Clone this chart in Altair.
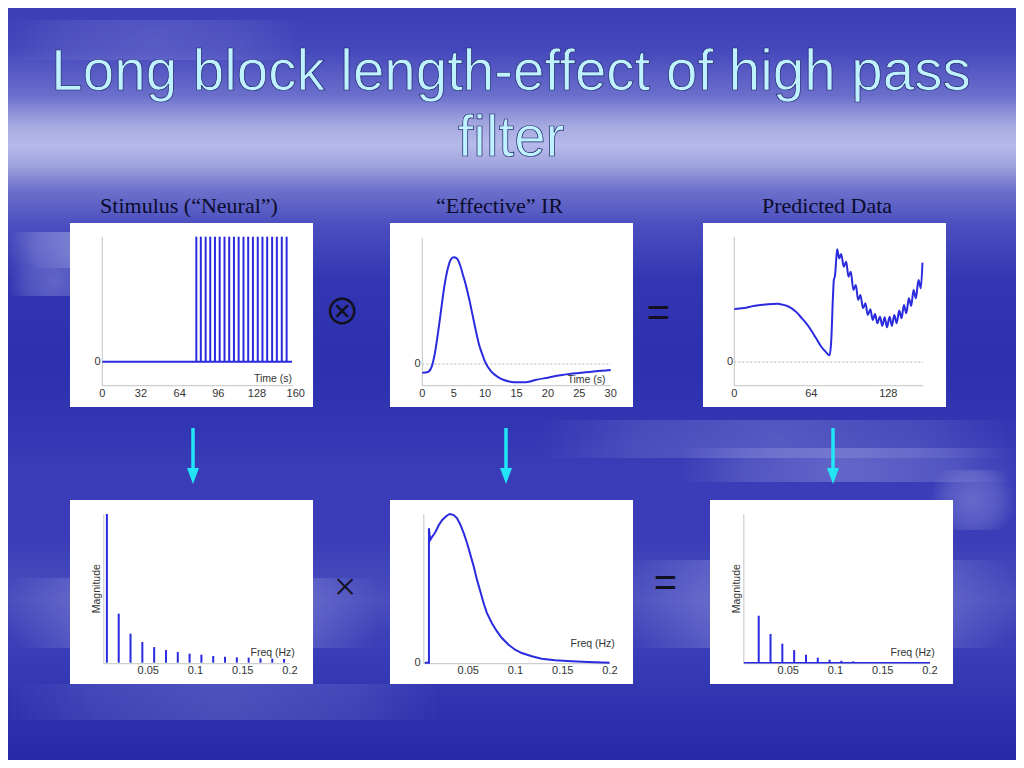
import altair as alt
import pandas as pd

OFF = 8           # page margin
W, H = 1008, 752  # chart size

# ---------------- text ----------------
title_lines = ["Long block length-effect of high pass", "filter"]
subtitles = ["Stimulus (\u201cNeural\u201d)", "\u201cEffective\u201d IR", "Predicted Data"]

# ---------------- data ----------------
# Stimulus ("Neural"): spike onset times (s)
stim_onsets = [77.8, 81.5, 85.5, 89.3, 93.2, 97.1, 101.1, 105.0, 108.9, 112.8,
               116.8, 120.7, 124.6, 128.6, 132.5, 136.4, 140.5, 144.4, 148.5, 152.5]
stim_end = 157

# "Effective" IR
hrf_t = [0, 0.5, 1, 1.5, 2, 2.5, 3, 3.5, 4, 4.5, 5, 5.5, 6, 6.5, 7, 7.5, 8, 8.5, 9, 9.5, 10,
         11, 12, 13, 14, 15, 16, 17, 18, 20, 22, 24, 26, 28, 30]
hrf_v = [-0.081, -0.08, -0.072, -0.025, 0.10, 0.29, 0.51, 0.725, 0.88, 0.975, 1.0,
         0.99, 0.93, 0.83, 0.725, 0.60, 0.46, 0.32, 0.19, 0.10, 0.02,
         -0.072, -0.12, -0.15, -0.166, -0.172, -0.172, -0.166, -0.15,
         -0.128, -0.106, -0.09, -0.078, -0.066, -0.056]

# Predicted data
pred_t = [0, 8, 16, 24, 32, 36, 40, 44, 48, 52, 56, 60, 64, 68, 72, 76, 79.2,
          80.6, 81.9, 82.8, 83.6, 84.7, 85.5, 87.2, 88.8, 91.0, 93.0, 94.9, 96.8,
          99.0, 101.0, 102.9, 104.8, 107.0, 109.0, 110.9, 113.1, 115.0, 117.0,
          118.9, 121.1, 123.0, 125.0, 126.9, 129.1, 131.0, 133.0, 134.9, 137.1,
          139.0, 141.0, 142.9, 145.1, 147.0, 149.0, 150.9, 153.1, 155.0, 156.4]
pred_v = [0.47, 0.479, 0.497, 0.509, 0.515, 0.516, 0.509, 0.497, 0.473, 0.438, 0.39,
          0.34, 0.28, 0.21, 0.14, 0.09, 0.059,
          0.195, 0.55, 0.734, 0.757, 0.905, 1.0, 0.92, 0.959, 0.846, 0.89, 0.757, 0.80,
          0.639, 0.683, 0.55, 0.595, 0.476, 0.521, 0.417, 0.467, 0.373, 0.426,
          0.343, 0.402, 0.32, 0.396, 0.308, 0.402, 0.32, 0.417, 0.343, 0.456,
          0.388, 0.506, 0.432, 0.565, 0.497, 0.639, 0.565, 0.728, 0.654, 0.882]

# Spectrum of stimulus
stim_freq = [0.00625, 0.01875, 0.03125, 0.04375, 0.05625, 0.06875, 0.08125, 0.09375,
             0.10625, 0.11875, 0.13125, 0.14375, 0.15625, 0.16875, 0.18125, 0.19375]
stim_mag = [1.0, 0.33, 0.195, 0.139, 0.105, 0.085, 0.072, 0.061,
            0.054, 0.045, 0.040, 0.036, 0.034, 0.029, 0.027, 0.025]

# Spectrum of effective IR
ir_freq = [0.004, 0.0084, 0.0084, 0.0091, 0.0098, 0.0112, 0.0137, 0.0154, 0.0189,
           0.0225, 0.026, 0.0295, 0.0305, 0.0347, 0.0382, 0.0418, 0.0453, 0.0488,
           0.0523, 0.0558, 0.0593, 0.0628, 0.0663, 0.0698, 0.0751, 0.0804, 0.0856,
           0.0926, 0.0996, 0.1067, 0.1172, 0.1277, 0.1418, 0.1593, 0.1768, 0.1996]
ir_mag = [0, 0, 0.904, 0.859, 0.826, 0.841, 0.864, 0.881, 0.926,
          0.96, 0.982, 0.998, 1.0, 0.993, 0.971, 0.926, 0.870, 0.803,
          0.725, 0.647, 0.557, 0.479, 0.40, 0.333, 0.266, 0.21, 0.166,
          0.121, 0.087, 0.065, 0.043, 0.027, 0.016, 0.009, 0.004, 0.0]

# Spectrum of predicted data
pred_freq = [0.01875, 0.03125, 0.04375, 0.05625, 0.06875, 0.08125, 0.09375,
             0.10625, 0.11875, 0.13125, 0.14375, 0.15625]
pred_mag = [0.316, 0.193, 0.128, 0.085, 0.054, 0.034, 0.020, 0.013, 0.009, 0.0045, 0.002, 0.001]

# tick labels
p1_ticks = [0, 32, 64, 96, 128, 160]
p2_ticks = [0, 5, 10, 15, 20, 25, 30]
p3_ticks = [0, 64, 128]
f_ticks = [0.05, 0.1, 0.15, 0.2]
f_labels = ["0.05", "0.1", "0.15", "0.2"]

# ---------------- style ----------------
BLUE = "#2a2ade"
AXIS = "#c4c4c4"
TICK = "#333333"
FONT = "Liberation Sans"
CYAN = "#22e6f6"
one = pd.DataFrame({"k": [0]})


def v(p):
    """page pixel -> chart pixel value"""
    return alt.value(p - OFF)


def sc(dom, a, b):
    return alt.Scale(domain=dom, range=[a - OFF, b - OFF], nice=False, zero=False)


def X(f, s):
    return alt.X(f, scale=s, axis=None)


def Y(f, s):
    return alt.Y(f, scale=s, axis=None)


def axis_lines(scx, xa, xb, ytop, ybot):
    d = pd.DataFrame({"a": [xa], "b": [xb]})
    yax = alt.Chart(d).mark_rule(color=AXIS, strokeWidth=1).encode(
        x=X("a:Q", scx), y=v(ytop), y2=v(ybot))
    xax = alt.Chart(d).mark_rule(color=AXIS, strokeWidth=1).encode(
        x=X("a:Q", scx), x2="b:Q", y=v(ybot))
    return [yax, xax]


def tick_text(scx, vals, labels, ypage):
    d = pd.DataFrame({"v": vals, "lab": labels})
    return alt.Chart(d).mark_text(font=FONT, fontSize=11, color=TICK, align="center",
                                  baseline="middle").encode(
        x=X("v:Q", scx), y=v(ypage), text="lab:N")


def zero_label(scy, xright):
    d = pd.DataFrame({"v": [0], "lab": ["0"]})
    return alt.Chart(d).mark_text(font=FONT, fontSize=11, color=TICK, align="right",
                                  baseline="middle").encode(
        x=v(xright), y=Y("v:Q", scy), text="lab:N")


def zero_line(scx, scy, xa, xb):
    d = pd.DataFrame({"a": [xa], "b": [xb], "z": [0]})
    return alt.Chart(d).mark_rule(color="#b4b4b4", strokeWidth=1, strokeDash=[2, 2]).encode(
        x=X("a:Q", scx), x2="b:Q", y=Y("z:Q", scy))


def label(txt, xp, yp, size=10.5, angle=0):
    return alt.Chart(one).mark_text(text=txt, font=FONT, fontSize=size, color=TICK,
                                    align="center", baseline="middle", angle=angle).encode(
        x=v(xp), y=v(yp))


# ---------------- background ----------------
bg_y = [8, 50, 95, 125, 145, 165, 190, 225, 280, 360, 430, 470, 540, 600, 640, 700, 760]
bg_c = ["#3b3db6", "#4548bc", "#6a6ecb", "#a5a9e0", "#b6baea", "#a0a4dd", "#6d71cb",
        "#4a4ebf", "#3236b2", "#2c30ae", "#3236b3", "#3a3db7", "#3a3db7", "#4a4ebe",
        "#3b3fb8", "#3034b0", "#2629a6"]
bg = alt.Chart(one).mark_rect(fill=alt.LinearGradient(
    gradient="linear", x1=0, x2=0, y1=0, y2=1,
    stops=[alt.GradientStop(offset=min(1, (y - OFF) / H), color=c) for y, c in zip(bg_y, bg_c)]
)).encode(x=v(OFF), x2=v(OFF + W), y=v(OFF), y2=v(OFF + H))

# soft light cloud streaks (page px), all kept inside the chart area
streaks = [
    (8, 150, 232, 268, 0.45),
    (8, 100, 268, 296, 0.3),
    (540, 1016, 420, 458, 0.22),
    (680, 1016, 448, 482, 0.28),
    (8, 380, 578, 648, 0.35),
    (620, 1016, 560, 648, 0.32),
    (8, 440, 684, 720, 0.18),
    (930, 1016, 470, 530, 0.3),
    (8, 300, 20, 60, 0.15),
]
streak_layers = []
for x0, x1, y0, y1, a in streaks:
    streak_layers.append(
        alt.Chart(one).mark_rect(
            fill=alt.RadialGradient(
                gradient="radial", x1=0.5, y1=0.5, r1=0, x2=0.5, y2=0.5, r2=0.5,
                stops=[alt.GradientStop(offset=0, color=f"rgba(205,210,245,{a})"),
                       alt.GradientStop(offset=0.6, color=f"rgba(205,210,245,{a * 0.6})"),
                       alt.GradientStop(offset=1, color="rgba(205,210,245,0)")])
        ).encode(x=v(x0), x2=v(x1), y=v(y0), y2=v(y1)))

boxes = [(70, 223, 313, 407), (390, 223, 633, 407), (703, 223, 946, 407),
         (70, 500, 313, 684), (390, 500, 633, 684), (710, 500, 953, 684)]
box_layers = [alt.Chart(one).mark_rect(fill="white").encode(
    x=v(a), x2=v(c), y=v(b), y2=v(d)) for a, b, c, d in boxes]

# ---------------- titles ----------------
title_layers = [alt.Chart(one).mark_text(
    text=txt, font=FONT, fontSize=56.5, color="#bff2ff", stroke="#22226a",
    strokeWidth=0.7, align="center", baseline="alphabetic").encode(x=v(511), y=v(yb))
    for txt, yb in zip(title_lines, [90, 156])]

sub_layers = [alt.Chart(one).mark_text(
    text=t, font="Liberation Serif", fontSize=22, color="#0c0c2c",
    align="center", baseline="alphabetic").encode(x=v(xc), y=v(213))
    for t, xc in zip(subtitles, [189, 499.5, 827])]

# ---------------- panel 1 : stimulus ----------------
s1x = sc([0, 160], 102.3, 295.7)
s1y = sc([0, 1], 361.7, 236.7)
d_spk = pd.DataFrame({"t": stim_onsets, "lo": 0, "hi": 1})
p1 = alt.layer(
    *axis_lines(s1x, 0, 158, 236.7, 385.7),
    alt.Chart(pd.DataFrame({"a": [0], "b": [stim_end], "z": [0]})).mark_rule(
        color=BLUE, strokeWidth=2).encode(x=X("a:Q", s1x), x2="b:Q", y=Y("z:Q", s1y)),
    alt.Chart(d_spk).mark_rule(color=BLUE, strokeWidth=2).encode(
        x=X("t:Q", s1x), y=Y("lo:Q", s1y), y2="hi:Q"),
    tick_text(s1x, p1_ticks, [str(t) for t in p1_ticks], 394),
    zero_label(s1y, 100.5),
    label("Time (s)", 273, 379),
)

# ---------------- panel 2 : effective IR ----------------
s2x = sc([0, 30], 422.3, 610.7)
s2y = sc([0, 1], 364, 257.3)
d_hrf = pd.DataFrame({"t": hrf_t, "v": hrf_v})
p2 = alt.layer(
    *axis_lines(s2x, 0, 30, 238, 385.7),
    zero_line(s2x, s2y, 0, 30),
    alt.Chart(d_hrf).mark_line(color=BLUE, strokeWidth=2, interpolate="monotone").encode(
        x=X("t:Q", s2x), y=Y("v:Q", s2y)),
    tick_text(s2x, p2_ticks, [str(t) for t in p2_ticks], 394),
    zero_label(s2y, 420.5),
    label("Time (s)", 586.5, 380),
)

# ---------------- panel 3 : predicted data ----------------
s3x = sc([0, 160], 734.3, 926.8)
s3y = sc([0, 1], 362, 249.3)
d_pred = pd.DataFrame({"t": pred_t, "v": pred_v})
p3 = alt.layer(
    *axis_lines(s3x, 0, 157, 236.7, 385.7),
    zero_line(s3x, s3y, 0, 157),
    alt.Chart(d_pred).mark_line(color=BLUE, strokeWidth=2, interpolate="monotone").encode(
        x=X("t:Q", s3x), y=Y("v:Q", s3y)),
    tick_text(s3x, p3_ticks, [str(t) for t in p3_ticks], 394),
    zero_label(s3y, 733),
)

# ---------------- panel 4 : stimulus spectrum ----------------
s4x = sc([0, 0.2], 101, 290)
s4y = sc([0, 1], 662.7, 514)
d_s4 = pd.DataFrame({"f": stim_freq, "lo": 0, "m": stim_mag})
p4 = alt.layer(
    *axis_lines(s4x, 0.003, 0.2, 514, 663.7),
    alt.Chart(d_s4).mark_rule(color=BLUE, strokeWidth=2).encode(
        x=X("f:Q", s4x), y=Y("lo:Q", s4y), y2="m:Q"),
    tick_text(s4x, f_ticks, f_labels, 671.3),
    label("Magnitude", 97.3, 588.7, angle=270),
    label("Freq (Hz)", 272.7, 653),
)

# ---------------- panel 5 : IR spectrum ----------------
s5x = sc([0, 0.2], 421, 610)
s5y = sc([0, 1], 662.7, 514)
d_s5 = pd.DataFrame({"f": ir_freq, "m": ir_mag, "i": list(range(len(ir_freq)))})
p5 = alt.layer(
    *axis_lines(s5x, 0.003, 0.2, 514, 663.7),
    alt.Chart(d_s5).mark_line(color=BLUE, strokeWidth=2).encode(
        x=X("f:Q", s5x), y=Y("m:Q", s5y), order=alt.Order("i:Q")),
    tick_text(s5x, f_ticks, f_labels, 671.3),
    zero_label(s5y, 420.5),
    label("Freq (Hz)", 592.7, 643.7),
)

# ---------------- panel 6 : predicted spectrum ----------------
s6x = sc([0, 0.2], 741, 930)
s6y = sc([0, 1], 662.7, 514)
d_s6 = pd.DataFrame({"f": pred_freq, "lo": 0, "m": pred_mag})
p6 = alt.layer(
    *axis_lines(s6x, 0.003, 0.2, 514, 663.7),
    alt.Chart(pd.DataFrame({"a": [0.003], "b": [0.2], "z": [0]})).mark_rule(
        color=BLUE, strokeWidth=1.5).encode(x=X("a:Q", s6x), x2="b:Q", y=Y("z:Q", s6y)),
    alt.Chart(d_s6).mark_rule(color=BLUE, strokeWidth=2).encode(
        x=X("f:Q", s6x), y=Y("lo:Q", s6y), y2="m:Q"),
    tick_text(s6x, f_ticks, f_labels, 671.3),
    label("Magnitude", 737.3, 588.7, angle=270),
    label("Freq (Hz)", 912.7, 653),
)

# ---------------- operators and arrows ----------------
ops = [("\u2297", 342.3, 314, 36, "Noto Sans CJK JP"),
       ("=", 658.5, 314, 40, FONT),
       ("\u00d7", 345, 588, 40, "Liberation Serif"),
       ("=", 665.5, 583.5, 40, FONT)]
op_layers = [alt.Chart(one).mark_text(text=t, font=f, fontSize=s, color="#111122",
                                      align="center", baseline="middle").encode(
    x=v(xp), y=v(yp)) for t, xp, yp, s, f in ops]

arrow_layers = []
for xa in [193, 506, 833]:
    arrow_layers.append(alt.Chart(one).mark_rule(color=CYAN, strokeWidth=3.5).encode(
        x=v(xa), y=v(428), y2=v(471)))
    arrow_layers.append(alt.Chart(one).mark_point(
        shape="M-0.45,-0.6L0.45,-0.6L0,0.6Z", filled=True, color=CYAN, opacity=1,
        size=711, strokeWidth=0).encode(x=v(xa), y=v(476)))

chart = alt.layer(
    bg, *streak_layers, *box_layers, *title_layers, *sub_layers,
    p1, p2, p3, p4, p5, p6, *op_layers, *arrow_layers
).resolve_scale(x="independent", y="independent").properties(
    width=W, height=H, padding=0, background="#3a3cb5"
).configure_view(stroke=None)

chart.save("out.html", embed_options={"renderer": "svg", "actions": False})
